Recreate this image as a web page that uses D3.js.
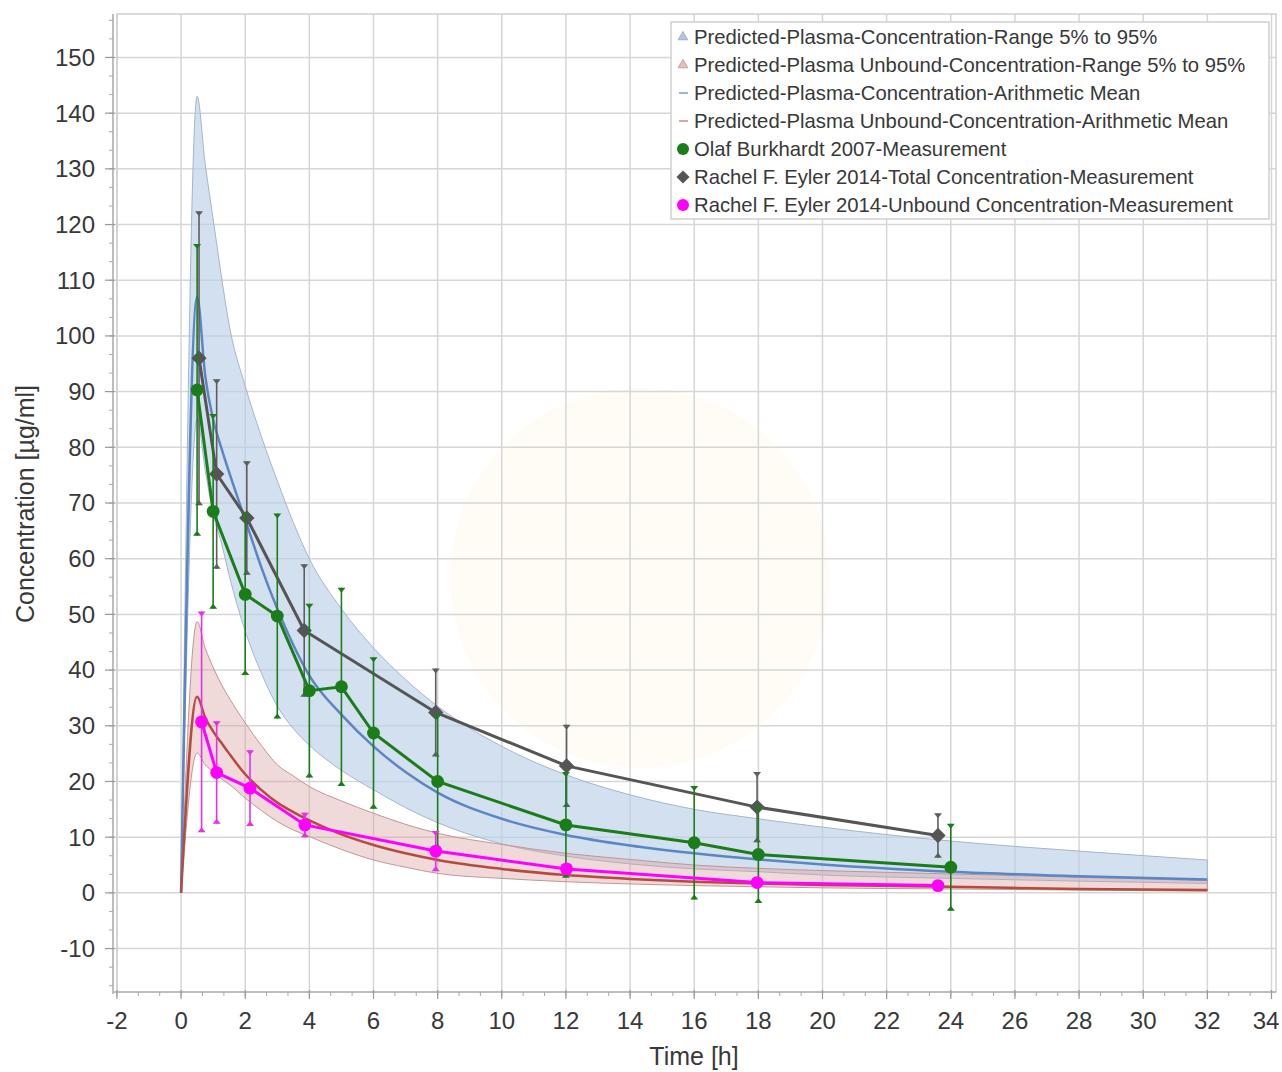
<!DOCTYPE html>
<meta charset="utf-8">
<style>
body, html {
  margin: 0;
  padding: 0;
  background: #fff;
}
text {
  font-family: "Liberation Sans", Arial, sans-serif;
  fill: #383838;
}
.tick-label { font-size: 24px; }
.axis-title { font-size: 25px; }
.legend-text { font-size: 20.3px; }
</style>
<div id="chart"></div>
<script src="https://d3js.org/d3.v7.min.js"></script>
<script>
// simulated profiles (time grid shared by mean and 5-95% range)
const simTime = [0, 0.5, 0.75, 1, 1.25, 1.5, 2, 2.5, 3, 3.5, 4, 5, 6, 7, 8, 10, 12, 14, 16, 18, 20, 24, 28, 32]
const totalMean  = [0, 107, 93, 85, 80, 75.5, 67, 58.5, 51, 44.5, 39, 32, 26.3, 21.7, 18, 13.3, 10.4, 8.5, 7.1, 6.0, 5.1, 3.8, 3.0, 2.4]
const totalUpper = [0, 143, 131, 121, 111, 102, 91, 82, 74, 66.5, 60, 51, 44, 38.3, 33.5, 26.3, 21.2, 17.6, 15, 13.3, 11.8, 9.3, 7.5, 5.9]
const totalLower = [0, 85, 76, 68, 63, 57, 47, 39.5, 33.5, 29.5, 26.5, 22, 18.5, 15.3, 12.6, 8.8, 6.6, 5.2, 4.3, 3.8, 3.2, 2.6, 2.1, 1.7]
const unboundMean  = [0, 35.2, 31.5, 29, 27, 25, 21.3, 18.5, 16.2, 14.5, 13, 10.5, 8.6, 7.1, 5.9, 4.3, 3.2, 2.5, 2.0, 1.7, 1.4, 1.1, 0.7, 0.5]
const unboundUpper = [0, 48.7, 44, 40.5, 37.5, 35, 30.5, 26.5, 23, 21, 19.1, 16.5, 14.3, 12.3, 10.7, 8.7, 7.1, 6.0, 5.0, 4.4, 4.0, 3.4, 2.8, 2.2]
const unboundLower = [0, 25.1, 23, 21.8, 20.5, 19.5, 17, 14.8, 12.8, 11.3, 10.1, 7.8, 5.9, 4.6, 3.5, 2.6, 2.0, 1.6, 1.3, 1.1, 0.9, 0.7, 0.5, 0.3]

// observed data
const burkhardtTime = [0.5, 1, 2, 3, 4, 5, 6, 8, 12, 16, 18, 24]
const burkhardtConc = [90.3, 68.5, 53.6, 49.7, 36.3, 37.0, 28.7, 20.0, 12.2, 9.0, 6.9, 4.6]
const burkhardtSd   = [26.2, 17.5, 14.5, 18.4, 15.6, 17.8, 13.6, 12.1, 9.5, 10.2, 8.7, 7.8]
const eylerTotalTime = [0.56, 1.11, 2.05, 3.84, 7.94, 12.02, 17.96, 23.6]
const eylerTotalConc = [96.0, 75.2, 67.3, 47.1, 32.4, 22.8, 15.4, 10.3]
const eylerTotalSd   = [26.4, 17.0, 10.2, 11.9, 7.9, 7.4, 6.3, 4.0]
const eylerFreeTime = [0.64, 1.11, 2.15, 3.86, 7.94, 12.02, 17.96, 23.6]
const eylerFreeConc = [30.7, 21.6, 18.8, 12.2, 7.5, 4.3, 1.85, 1.3]
const eylerFreeSd   = [19.8, 9.2, 6.8, 2.2, 3.6, 0.9, 0.6, 0.5]

const xTicks = d3.range(-2, 35, 2)
const yTicks = d3.range(-10, 151, 10)

const legendLabels = [
  "Predicted-Plasma-Concentration-Range 5% to 95%",
  "Predicted-Plasma Unbound-Concentration-Range 5% to 95%",
  "Predicted-Plasma-Concentration-Arithmetic Mean",
  "Predicted-Plasma Unbound-Concentration-Arithmetic Mean",
  "Olaf Burkhardt 2007-Measurement",
  "Rachel F. Eyler 2014-Total Concentration-Measurement",
  "Rachel F. Eyler 2014-Unbound Concentration-Measurement"
]

const width = 1282
const height = 1072
const margin = {top: 14, right: 6, bottom: 80, left: 115}

const svg = d3.select("#chart").append("svg")
  .attr("width", width)
  .attr("height", height)

const x = d3.scaleLinear().domain([-2.06, 34.14]).range([margin.left, width - margin.right])
const y = d3.scaleLinear().domain([-17.8, 157.8]).range([height - margin.bottom, margin.top])

// faint watermark
svg.append("circle")
  .attr("cx", 640).attr("cy", 578).attr("r", 190)
  .attr("fill", "#fefcf5")

// grid
const grid = svg.append("g")
grid.selectAll("line.gx").data(xTicks).enter().append("line")
  .attr("x1", d => x(d)).attr("x2", d => x(d))
  .attr("y1", margin.top).attr("y2", height - margin.bottom)
  .attr("stroke", "#d6d6d6").attr("stroke-width", 1.5)
grid.selectAll("line.gy").data(yTicks).enter().append("line")
  .attr("y1", d => y(d)).attr("y2", d => y(d))
  .attr("x1", margin.left).attr("x2", width - margin.right)
  .attr("stroke", "#d6d6d6").attr("stroke-width", 1.5)

// plot frame
svg.append("rect")
  .attr("x", margin.left + 2).attr("y", margin.top)
  .attr("width", width - margin.right - margin.left - 2)
  .attr("height", height - margin.bottom - margin.top)
  .attr("fill", "none").attr("stroke", "#d0d0d0").attr("stroke-width", 1.5)

// axes
const xAxis = svg.append("g").attr("transform", `translate(0,${height - margin.bottom})`)
xAxis.append("line").attr("x1", margin.left - 2).attr("x2", width - margin.right)
  .attr("stroke", "#bdbdbd").attr("stroke-width", 2)
xAxis.selectAll("line.minor").data(d3.range(-2, 34.1, 2 / 3)).enter().append("line")
  .attr("x1", d => x(d)).attr("x2", d => x(d)).attr("y1", 0).attr("y2", 4)
  .attr("stroke", "#aaa").attr("stroke-width", 1)
xAxis.selectAll("line.major").data(xTicks).enter().append("line")
  .attr("x1", d => x(d)).attr("x2", d => x(d)).attr("y1", -2).attr("y2", 7)
  .attr("stroke", "#999").attr("stroke-width", 1.2)
xAxis.selectAll("text").data(xTicks).enter().append("text")
  .attr("class", "tick-label")
  .attr("x", d => Math.min(x(d), width - 16)).attr("y", 37)
  .attr("text-anchor", "middle")
  .text(d => d)

const yAxis = svg.append("g").attr("transform", `translate(${margin.left - 2},0)`)
yAxis.append("line").attr("y1", margin.top).attr("y2", height - margin.bottom + 2)
  .attr("stroke", "#bdbdbd").attr("stroke-width", 2)
yAxis.selectAll("line.minor").data(d3.range(-16.67, 157, 10 / 3)).enter().append("line")
  .attr("y1", d => y(d)).attr("y2", d => y(d)).attr("x1", -4).attr("x2", 0)
  .attr("stroke", "#aaa").attr("stroke-width", 1)
yAxis.selectAll("line.major").data(yTicks).enter().append("line")
  .attr("y1", d => y(d)).attr("y2", d => y(d)).attr("x1", -8).attr("x2", 2)
  .attr("stroke", "#999").attr("stroke-width", 1.2)
yAxis.selectAll("text").data(yTicks).enter().append("text")
  .attr("class", "tick-label")
  .attr("x", -18).attr("y", d => y(d)).attr("dy", "0.35em")
  .attr("text-anchor", "end")
  .text(d => d)

svg.append("text").attr("class", "axis-title")
  .attr("x", 694).attr("y", 1065).attr("text-anchor", "middle")
  .text("Time [h]")
svg.append("text").attr("class", "axis-title")
  .attr("transform", "translate(34,504) rotate(-90)")
  .attr("text-anchor", "middle")
  .text("Concentration [µg/ml]")

// bands and means
const sim = simTime.map((t, i) => ({t, tm: totalMean[i], tu: totalUpper[i], tl: totalLower[i],
  um: unboundMean[i], uu: unboundUpper[i], ul: unboundLower[i]}))

const plot = svg.append("g")
plot.append("path").datum(sim)
  .attr("d", d3.area().x(d => x(d.t)).y0(d => y(d.tl)).y1(d => y(d.tu)).curve(d3.curveMonotoneX))
  .attr("fill", "#bccfe6").attr("fill-opacity", 0.65)
  .attr("stroke", "#a3b6cf").attr("stroke-width", 1)
plot.append("path").datum(sim)
  .attr("d", d3.area().x(d => x(d.t)).y0(d => y(d.ul)).y1(d => y(d.uu)).curve(d3.curveMonotoneX))
  .attr("fill", "#d9a0a0").attr("fill-opacity", 0.4)
  .attr("stroke", "#c49595").attr("stroke-width", 1)
plot.append("path").datum(sim)
  .attr("d", d3.line().x(d => x(d.t)).y(d => y(d.tm)).curve(d3.curveMonotoneX))
  .attr("fill", "none").attr("stroke", "#5a86c3").attr("stroke-width", 2.5)
plot.append("path").datum(sim)
  .attr("d", d3.line().x(d => x(d.t)).y(d => y(d.um)).curve(d3.curveMonotoneX))
  .attr("fill", "none").attr("stroke", "#b74a3e").attr("stroke-width", 2.5)

// measurement series
function drawSeries(times, conc, sd, color, barColor, symbol, size) {
  const pts = times.map((t, i) => ({t, c: conc[i], s: sd[i]}))
  const g = plot.append("g")
  const bars = g.selectAll("g.err").data(pts).enter().append("g")
  bars.append("line")
    .attr("x1", d => x(d.t)).attr("x2", d => x(d.t))
    .attr("y1", d => y(d.c + d.s)).attr("y2", d => y(d.c - d.s))
    .attr("stroke", barColor).attr("stroke-width", 1.6)
  bars.append("path")
    .attr("d", d => { const px = x(d.t), py = y(d.c + d.s); return `M${px - 4},${py}L${px + 4},${py}L${px},${py + 5}Z` })
    .attr("fill", barColor)
  bars.append("path")
    .attr("d", d => { const px = x(d.t), py = y(d.c - d.s); return `M${px - 4},${py}L${px + 4},${py}L${px},${py - 5}Z` })
    .attr("fill", barColor)
  g.append("path").datum(pts)
    .attr("d", d3.line().x(d => x(d.t)).y(d => y(d.c)))
    .attr("fill", "none").attr("stroke", color).attr("stroke-width", 3)
  g.selectAll("path.sym").data(pts).enter().append("path")
    .attr("transform", d => `translate(${x(d.t)},${y(d.c)})`)
    .attr("d", d3.symbol().type(symbol).size(size))
    .attr("fill", color)
}

drawSeries(eylerTotalTime, eylerTotalConc, eylerTotalSd, "#555555", "#5e5e5e", d3.symbolDiamond2, 150)
drawSeries(burkhardtTime, burkhardtConc, burkhardtSd, "#1a7d1a", "#1a7d1a", d3.symbolCircle, 130)
drawSeries(eylerFreeTime, eylerFreeConc, eylerFreeSd, "#ff00ff", "#e830e8", d3.symbolCircle, 130)

// legend
const legend = svg.append("g")
legend.append("rect")
  .attr("x", 671).attr("y", 22).attr("width", 598).attr("height", 197)
  .attr("fill", "#fff").attr("stroke", "#cfcfcf").attr("stroke-width", 1.5)
const rowY = i => 37 + i * 28
legend.selectAll("text").data(legendLabels).enter().append("text")
  .attr("class", "legend-text")
  .attr("x", 694).attr("y", (d, i) => rowY(i)).attr("dy", "0.35em")
  .text(d => d)
legend.append("path").attr("transform", `translate(683,${rowY(0)})`)
  .attr("d", d3.symbol().type(d3.symbolTriangle).size(40)).attr("fill", "#b3c6de").attr("stroke", "#9db1cc")
legend.append("path").attr("transform", `translate(683,${rowY(1)})`)
  .attr("d", d3.symbol().type(d3.symbolTriangle).size(40)).attr("fill", "#e6bcbc").attr("stroke", "#cf9f9f")
legend.append("line").attr("x1", 679).attr("x2", 688).attr("y1", rowY(2)).attr("y2", rowY(2))
  .attr("stroke", "#7e9cc6").attr("stroke-width", 1.5)
legend.append("line").attr("x1", 679).attr("x2", 688).attr("y1", rowY(3)).attr("y2", rowY(3))
  .attr("stroke", "#c88a84").attr("stroke-width", 1.5)
legend.append("circle").attr("cx", 683).attr("cy", rowY(4)).attr("r", 6).attr("fill", "#1a7d1a")
legend.append("path").attr("transform", `translate(683,${rowY(5)})`)
  .attr("d", d3.symbol().type(d3.symbolDiamond2).size(110)).attr("fill", "#555")
legend.append("circle").attr("cx", 683).attr("cy", rowY(6)).attr("r", 6).attr("fill", "#ff00ff")
</script>
